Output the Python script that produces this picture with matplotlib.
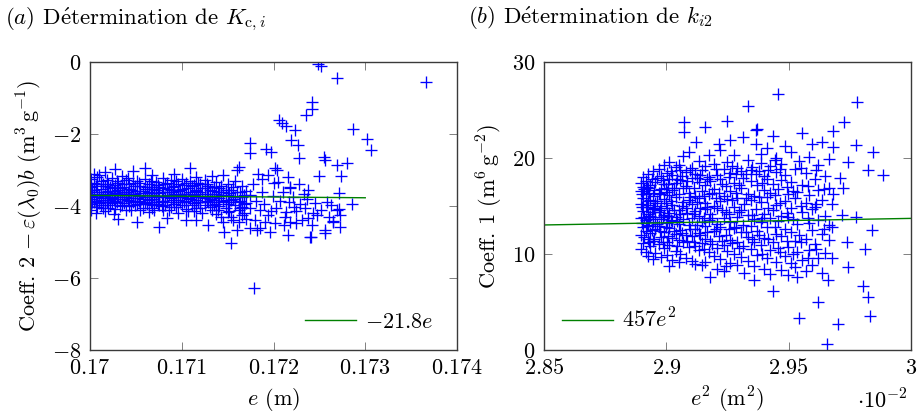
import matplotlib
matplotlib.use("Agg")
import matplotlib.pyplot as plt

plt.rcParams['font.family'] = ['cmr10', 'DejaVu Serif']
plt.rcParams['mathtext.fontset'] = 'cm'
plt.rcParams['axes.unicode_minus'] = False
plt.rcParams['font.size'] = 16

# (a) Coeff. 2 - eps(lambda0) b versus e (m): dense band, one row per e value
band_a = [
    (0.17001, [-3.25, -3.48, -3.62, -3.80, -3.95, -4.10]),
    (0.17004, [-3.10, -3.55, -3.70, -3.88, -3.35]),
    (0.17008, [-3.40, -3.66, -3.75, -4.02, -3.20]),
    (0.17012, [-3.30, -3.52, -3.84, -3.96, -3.60]),
    (0.17016, [-3.05, -3.45, -3.72, -3.90, -4.15]),
    (0.17020, [-3.38, -3.58, -3.68, -3.82, -4.05]),
    (0.17024, [-3.22, -3.50, -3.77, -3.93]),
    (0.17027, [-2.98, -3.42, -3.64, -3.86, -4.08]),
    (0.17031, [-3.35, -3.55, -3.70, -4.37]),
    (0.17035, [-3.18, -3.47, -3.80, -3.98, -3.62]),
    (0.17039, [-3.28, -3.60, -3.74, -4.12]),
    (0.17043, [-3.40, -3.53, -3.85, -3.66, -4.00]),
    (0.17047, [-3.02, -3.36, -3.70, -3.90]),
    (0.17051, [-3.30, -3.58, -3.78, -4.44, -3.95]),
    (0.17055, [-3.44, -3.63, -3.88, -4.10]),
    (0.17060, [-2.95, -3.26, -3.52, -3.75, -3.92]),
    (0.17064, [-3.38, -3.60, -3.82, -4.18]),
    (0.17068, [-3.15, -3.46, -3.70, -3.96, -4.05]),
    (0.17072, [-3.32, -3.56, -3.76, -3.88]),
    (0.17075, [-3.48, -3.65, -3.98, -4.57]),
    (0.17080, [-3.22, -3.50, -3.72, -3.85, -4.12]),
    (0.17084, [-3.36, -3.62, -3.90, -4.34]),
    (0.17088, [-3.28, -3.55, -3.78, -4.02]),
    (0.17092, [-3.12, -3.44, -3.68, -3.94]),
    (0.17096, [-3.40, -3.58, -3.82, -4.20]),
    (0.17100, [-3.25, -3.52, -3.74, -3.98]),
    (0.17105, [-3.35, -3.66, -3.86, -4.39, -4.08]),
    (0.17109, [-2.94, -3.30, -3.60, -3.80]),
    (0.17113, [-3.42, -3.70, -3.92, -4.15]),
    (0.17116, [-3.20, -3.55, -3.76, -4.39]),
    (0.17120, [-3.38, -3.62, -3.88, -4.05]),
    (0.17125, [-3.28, -3.50, -3.78, -3.96]),
    (0.17129, [-3.45, -3.72, -3.90, -4.53]),
    (0.17133, [-3.18, -3.58, -3.84, -4.12]),
    (0.17137, [-3.34, -3.66, -3.94, -4.22]),
    (0.17141, [-3.50, -3.78, -4.00]),
    (0.17145, [-3.14, -3.60, -3.86, -4.44]),
    (0.17146, [-4.71]),
    (0.17150, [-3.40, -3.70, -3.95, -4.18]),
    (0.17154, [-5.04, -3.55, -3.82, -4.30]),
    (0.17158, [-3.30, -3.74, -3.98]),
    (0.17160, [-4.67, -3.00, -3.62]),
    (0.17162, [-2.93, -4.44, -3.88, -4.10]),
    (0.17166, [-3.45, -3.76, -4.02, -4.25]),
    (0.17170, [-3.58, -3.92, -4.35]),
    (0.17174, [-2.26, -2.54, -3.70, -4.05, -4.60]),
]

band_a_extra = [
    (0.17002, [-3.55, -3.72, -3.90]),
    (0.17006, [-3.45, -3.85, -4.20]),
    (0.17010, [-3.15, -3.70, -3.92]),
    (0.17014, [-3.40, -3.78, -4.05]),
    (0.17018, [-3.60, -3.88, -3.28]),
    (0.17022, [-3.46, -3.74, -3.98]),
    (0.17026, [-3.58, -3.80, -4.22]),
    (0.17029, [-3.30, -3.66, -3.90]),
    (0.17033, [-3.50, -3.76, -4.00]),
    (0.17037, [-3.40, -3.68, -3.92]),
    (0.17041, [-3.22, -3.62, -3.84]),
    (0.17045, [-3.55, -3.78, -4.10]),
    (0.17049, [-3.45, -3.68, -3.96]),
    (0.17053, [-3.36, -3.72, -3.86]),
    (0.17058, [-3.58, -3.80, -4.06]),
    (0.17062, [-3.48, -3.70, -3.95]),
    (0.17066, [-3.30, -3.64, -3.88]),
    (0.17070, [-3.52, -3.80, -4.12]),
    (0.17074, [-3.42, -3.72, -3.94]),
    (0.17078, [-3.60, -3.86, -4.00]),
    (0.17082, [-3.38, -3.74, -3.98]),
    (0.17086, [-3.52, -3.70, -4.10]),
    (0.17090, [-3.46, -3.82, -3.60]),
    (0.17094, [-3.30, -3.76, -4.02]),
    (0.17098, [-3.55, -3.88, -3.70]),
    (0.17102, [-3.42, -3.66, -3.90]),
    (0.17107, [-3.50, -3.78, -4.14]),
    (0.17111, [-3.44, -3.72, -3.96]),
    (0.17115, [-3.58, -3.84, -4.05]),
    (0.17118, [-3.36, -3.68, -3.90]),
    (0.17122, [-3.50, -3.76, -4.20]),
    (0.17127, [-3.40, -3.66, -3.86]),
    (0.17131, [-3.56, -3.80, -4.02]),
    (0.17135, [-3.48, -3.74, -3.98]),
    (0.17139, [-3.62, -3.88, -4.10]),
    (0.17143, [-3.45, -3.70, -4.30]),
    (0.17148, [-3.55, -3.84, -4.05]),
    (0.17152, [-3.65, -3.90, -4.15]),
    (0.17156, [-3.48, -3.80, -4.40]),
    (0.17164, [-3.60, -3.85, -4.05]),
    (0.17168, [-3.70, -3.95, -4.20]),
]

# (a) scattered points beyond the band
e_a_sparse = [0.17192, 0.17197, 0.17206, 0.17209, 0.17214, 0.17223, 0.17249, 0.17252,
              0.17269, 0.17366, 0.17242, 0.17242, 0.17235, 0.17287, 0.17302, 0.17306,
              0.17219, 0.17227, 0.17228, 0.17255, 0.17256, 0.17269, 0.17280, 0.17250,
              0.17274, 0.17204, 0.17194, 0.17205, 0.17218, 0.17233, 0.17271, 0.17286,
              0.17263, 0.17271, 0.17273, 0.17273, 0.17265, 0.17256, 0.17256, 0.17240,
              0.17216, 0.17196, 0.17245, 0.17243, 0.17238, 0.17242, 0.17231, 0.17225,
              0.17218, 0.17214, 0.17222, 0.17211, 0.17202, 0.17185, 0.17182, 0.17269,
              0.17265, 0.17241, 0.17218, 0.17202, 0.17179, 0.17178, 0.17181, 0.17185,
              0.17188, 0.17190, 0.17194, 0.17199, 0.17203, 0.17207, 0.17210, 0.17213,
              0.17217, 0.17221, 0.17225, 0.17229, 0.17234, 0.17237, 0.17247, 0.17252,
              0.17258, 0.17260, 0.17188, 0.17183, 0.17200, 0.17216, 0.17228, 0.17238,
              0.17180, 0.17191, 0.17197]
c2_a_sparse = [-2.42, -2.50, -1.61, -1.70, -1.78, -1.89, -0.05, -0.12,
               -0.45, -0.56, -1.10, -1.31, -1.47, -1.86, -2.15, -2.44,
               -2.17, -2.31, -2.68, -2.63, -2.72, -2.86, -2.81, -3.17,
               -3.17, -3.01, -3.14, -3.32, -3.46, -3.67, -3.63, -3.94,
               -3.97, -4.09, -4.25, -4.57, -4.44, -4.67, -4.74, -4.85,
               -4.81, -4.71, -3.93, -4.20, -4.34, -4.53, -4.39, -4.48,
               -4.44, -4.16, -4.02, -4.53, -4.48, -4.62, -4.67, -4.11,
               -4.41, -4.87, -3.51, -2.95, -6.28, -3.40, -3.85, -4.10,
               -3.60, -3.95, -4.25, -3.72, -4.05, -3.85, -3.60, -4.30,
               -3.90, -3.75, -4.15, -3.95, -4.05, -3.80, -4.25, -4.10,
               -3.90, -4.30, -3.25, -3.10, -3.35, -3.20, -3.40, -3.55,
               -4.40, -4.45, -4.15]

slope_a = -21.8
e_fit_a = [0.170, 0.173]

# (b) Coeff. 1 versus e^2 (in 1e-2 m^2), one row per e^2 value
band_b = [
    (2.8895, [10.5, 12.0, 13.8, 15.2, 16.6, 17.4]),
    (2.8905, [11.1, 12.8, 14.5, 15.8, 17.0, 18.0]),
    (2.8915, [10.2, 12.4, 13.5, 14.9, 16.3, 17.6]),
    (2.8925, [9.8, 11.6, 13.0, 14.2, 15.5, 16.9, 18.3]),
    (2.8935, [10.8, 12.2, 14.0, 15.6, 17.2]),
    (2.8945, [9.5, 11.4, 13.3, 14.7, 16.0, 18.6]),
    (2.8955, [10.1, 12.6, 13.9, 15.3, 17.5]),
    (2.8968, [11.0, 12.9, 14.4, 16.4, 18.9]),
    (2.8980, [9.7, 11.8, 13.6, 15.0, 16.8, 18.1]),
    (2.8992, [10.6, 12.3, 14.1, 15.7, 17.3, 19.3]),
    (2.9003, [9.9, 11.3, 13.2, 14.8, 16.5, 18.4]),
    (2.9012, [8.7, 10.9, 12.7, 14.3, 16.1, 17.8, 19.6]),
    (2.9025, [9.4, 11.7, 13.4, 15.1, 16.7, 18.2]),
    (2.9038, [10.3, 12.1, 13.9, 15.9, 17.4, 19.1]),
    (2.9050, [9.2, 11.5, 13.1, 14.6, 16.2, 19.3]),
    (2.9057, [10.0, 12.5, 14.2, 17.7, 18.8]),
    (2.9068, [11.2, 13.6, 15.4, 16.9, 20.2]),
    (2.9071, [23.8]),
    (2.9074, [22.7]),
    (2.9080, [9.6, 12.0, 14.8, 17.1, 18.5]),
    (2.9091, [20.6, 10.7, 13.0, 15.6, 16.4]),
    (2.9105, [9.3, 11.9, 13.8, 15.2, 17.9, 19.0]),
    (2.9119, [9.0, 10.8, 12.6, 14.5, 16.0, 18.3]),
    (2.9123, [21.7]),
    (2.9132, [10.4, 12.2, 14.0, 15.8, 17.5, 19.7]),
    (2.9145, [8.9, 11.1, 13.3, 16.6, 18.7]),
    (2.9157, [23.2, 9.2, 11.6, 14.7, 17.2]),
    (2.9160, [12.9, 15.3, 19.2]),
    (2.9174, [20.3, 10.2, 13.5, 16.2, 18.0]),
    (2.9180, [7.6, 11.4, 14.2, 17.6]),
    (2.9195, [9.8, 12.4, 15.0, 16.8, 19.4]),
    (2.9208, [8.4, 10.6, 13.1, 14.8, 18.2]),
    (2.9214, [21.5, 11.9, 16.4]),
    (2.9221, [20.8, 9.5, 12.8, 15.5, 17.8]),
    (2.9235, [10.9, 13.7, 16.0, 18.9, 8.2]),
    (2.9242, [8.7, 12.0, 14.4, 17.1]),
    (2.9249, [23.9, 10.3, 15.7, 19.6]),
    (2.9262, [21.9, 9.1, 11.5, 13.3, 16.6, 18.4]),
    (2.9276, [20.3, 10.0, 12.7, 14.9, 17.4]),
    (2.9290, [8.9, 11.3, 13.9, 15.8, 19.0]),
    (2.9305, [9.7, 12.3, 14.6, 16.9, 18.6]),
    (2.9314, [22.2, 10.8, 13.0, 17.9]),
    (2.9317, [8.0, 15.2]),
    (2.9333, [25.4, 9.3, 11.8, 14.1, 16.3, 19.8]),
    (2.9345, [10.5, 12.9, 15.6, 17.6, 18.8]),
    (2.9358, [7.3, 8.7, 11.2, 13.6, 16.0]),
    (2.9365, [22.9, 21.5, 14.7, 18.3]),
    (2.9372, [23.0, 9.9, 12.4, 17.2]),
    (2.9385, [10.9, 13.3, 15.4, 19.5, 20.4]),
    (2.9398, [8.4, 11.7, 14.2, 16.7, 18.1]),
    (2.9410, [9.6, 12.8, 15.9, 17.8, 21.0]),
    (2.9425, [7.9, 10.4, 13.8, 16.4, 19.2]),
    (2.9437, [22.3, 6.1, 11.3, 14.6, 17.3]),
    (2.9450, [9.2, 12.1, 15.1, 18.5, 20.0]),
    (2.9456, [26.7, 10.6, 13.4, 16.8]),
    (2.9470, [8.3, 11.9, 14.0, 17.7, 19.4]),
    (2.9485, [9.8, 12.6, 15.5, 18.2, 21.2]),
    (2.9498, [7.8, 10.7, 13.9, 16.3]),
    (2.9510, [9.1, 12.3, 14.8, 17.5, 20.6]),
    (2.9525, [8.6, 11.4, 15.8, 18.9]),
    (2.9536, [7.6, 10.2, 13.1, 16.5]),
    (2.9542, [3.3, 12.0, 19.7]),
    (2.9556, [22.6, 9.4, 14.4, 17.2]),
    (2.9570, [8.2, 11.6, 15.3, 18.4]),
    (2.9585, [10.4, 13.2, 16.1, 20.1]),
    (2.9597, [21.5, 8.9, 12.5, 14.7]),
    (2.9607, [14.9, 11.0, 17.8]),
    (2.9620, [5.0, 9.6, 13.5, 16.7, 19.3]),
    (2.9638, [21.7, 8.0, 12.1, 15.6]),
    (2.9650, [10.1, 14.0, 18.1]),
    (2.9656, [0.6]),
    (2.9659, [7.3]),
    (2.9665, [11.5, 13.0, 16.9, 19.9]),
    (2.9679, [9.6, 12.8, 15.2]),
    (2.9683, [22.8, 21.1, 16.3]),
]

band_b_extra = [
    (2.8900, [13.2, 14.9, 16.2]),
    (2.8910, [11.8, 13.9, 16.8]),
    (2.8920, [12.9, 15.1, 17.0]),
    (2.8930, [11.3, 13.6, 16.4]),
    (2.8940, [12.5, 14.4, 17.8]),
    (2.8950, [11.6, 14.8, 16.7]),
    (2.8962, [13.1, 15.5, 17.9]),
    (2.8974, [12.4, 14.6, 16.3]),
    (2.8986, [11.2, 13.9, 17.7]),
    (2.8998, [12.8, 15.3, 16.9]),
    (2.9008, [11.9, 14.0, 17.3]),
    (2.9018, [13.5, 15.5, 18.6]),
    (2.9031, [12.4, 14.6, 16.9]),
    (2.9044, [10.8, 13.4, 17.8]),
    (2.9062, [12.2, 15.0, 18.1]),
    (2.9086, [11.4, 14.3, 17.6]),
    (2.9098, [12.6, 15.9, 18.8]),
    (2.9112, [11.2, 14.2, 16.9]),
    (2.9126, [13.0, 15.4, 17.9]),
    (2.9139, [12.0, 14.8, 18.2]),
    (2.9152, [10.5, 13.8, 16.0]),
    (2.9167, [12.3, 14.9, 17.8]),
    (2.9188, [11.0, 13.8, 16.4]),
    (2.9201, [12.6, 15.8, 18.9]),
    (2.9228, [11.4, 14.6, 17.3]),
    (2.9255, [12.6, 14.2, 18.0]),
    (2.9270, [11.1, 15.6, 19.2]),
    (2.9283, [12.8, 16.4, 18.3]),
    (2.9298, [10.6, 14.4, 17.2]),
    (2.9325, [12.3, 15.8, 18.3]),
    (2.9352, [11.6, 14.1, 19.1]),
    (2.9378, [12.0, 15.9, 18.6]),
    (2.9392, [10.0, 13.7, 17.4]),
    (2.9417, [11.6, 14.8, 18.7]),
    (2.9443, [12.8, 16.1, 19.8]),
    (2.9463, [10.2, 15.3, 18.9]),
    (2.9492, [11.4, 14.3, 17.0]),
    (2.9518, [10.0, 13.6, 16.6]),
    (2.9550, [11.3, 15.0, 19.0]),
    (2.9578, [9.6, 13.7, 17.1]),
    (2.9612, [10.5, 15.2, 18.8]),
    (2.9645, [12.6, 16.8]),
]

e2_b_sparse = [2.9702, 2.9710, 2.9717, 2.9724, 2.9727, 2.9738, 2.9741, 2.9743,
               2.9775, 2.9775, 2.9779, 2.9805, 2.9813, 2.9823, 2.9825, 2.9832,
               2.9840, 2.9843, 2.9884]
c1_b_sparse = [2.7, 17.9, 14.1, 16.9, 23.7, 11.2, 8.6, 19.6,
               13.9, 21.4, 25.8, 6.7, 10.5, 5.5, 18.7, 3.5,
               12.5, 20.6, 18.2]

slope_b = 457
e2_fit_b = [2.85, 3.0]  # x 1e-2 m^2


def unpack(rows):
    xs, ys = [], []
    for x, vals in rows:
        xs += [x] * len(vals)
        ys += vals
    return xs, ys


fig = plt.figure(figsize=(9.18, 4.16), dpi=100)
ax1 = fig.add_axes([90 / 918, 66 / 416, 367 / 918, 288 / 416])
ax2 = fig.add_axes([544 / 918, 66 / 416, 367 / 918, 288 / 416])

mk = dict(ls='none', marker='+', color='blue', markersize=8, markeredgewidth=0.95)

xa, ya = unpack(band_a + band_a_extra)
ax1.plot(xa + e_a_sparse, ya + c2_a_sparse, **mk)
ax1.plot(e_fit_a, [slope_a * e for e in e_fit_a], color='green', lw=1.0,
         label=r'$-21.8e$')
ax1.set_xlim(0.170, 0.174)
ax1.set_ylim(-8, 0)
ax1.set_xticks([0.170, 0.171, 0.172, 0.173, 0.174])
ax1.set_xticklabels(['$0.17$', '$0.171$', '$0.172$', '$0.173$', '$0.174$'])
ax1.set_yticks([-8, -6, -4, -2, 0])
ax1.set_yticklabels(['$-8$', '$-6$', '$-4$', '$-2$', '$0$'])
ax1.set_xlabel('$e$ (m)', labelpad=6)
ax1.set_ylabel(r'Coeff. 2 $-\,\varepsilon(\lambda_0)b$ (m$^3\,$g$^{-1}$)', labelpad=5)
ax1.legend(loc='center right', bbox_to_anchor=(0.935, 0.097), frameon=False,
           handlelength=2.3, handletextpad=0.4, borderpad=0, borderaxespad=0)

xb, yb = unpack(band_b + band_b_extra)
ax2.plot(xb + e2_b_sparse, yb + c1_b_sparse, **mk)
ax2.plot(e2_fit_b, [slope_b * v * 1e-2 for v in e2_fit_b], color='green', lw=1.0,
         label=r'$457e^2$')
ax2.set_xlim(2.85, 3.0)
ax2.set_ylim(0, 30)
ax2.set_xticks([2.85, 2.9, 2.95, 3.0])
ax2.set_xticklabels(['$2.85$', '$2.9$', '$2.95$', '$3$'])
ax2.set_yticks([0, 10, 20, 30])
ax2.set_yticklabels(['$0$', '$10$', '$20$', '$30$'])
ax2.set_xlabel('$e^2$ (m$^2$)', labelpad=5)
ax2.set_ylabel('Coeff. 1 (m$^6\\,$g$^{-2}$)', labelpad=5)
ax2.legend(loc='center left', bbox_to_anchor=(0.05, 0.105), frameon=False,
           handlelength=2.3, handletextpad=0.4, borderpad=0, borderaxespad=0)
ax2.text(0.99, -0.135, r'$\cdot 10^{-2}$', transform=ax2.transAxes,
         ha='right', va='top', fontsize=16)

for ax in (ax1, ax2):
    for s in ax.spines.values():
        s.set_color('#3a3a3a')
        s.set_linewidth(1.0)
    ax.tick_params(direction='in', length=6, width=0.7, color='#808080',
                   top=True, right=True, labelsize=16, pad=6)

fig.text(5 / 918, 1 - 24 / 416, r'$(a)$ D$\acute{\rm e}$termination de $K_{\mathrm{c},i}$',
         fontsize=16.5, va='baseline')
fig.text(468 / 918, 1 - 24 / 416, r'$(b)$ D$\acute{\rm e}$termination de $k_{i2}$',
         fontsize=16.5, va='baseline')

fig.savefig('out.png', dpi=100)
